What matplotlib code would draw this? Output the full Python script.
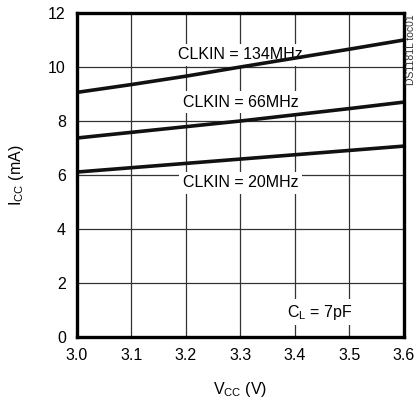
import matplotlib
matplotlib.use("Agg")
import matplotlib.pyplot as plt

plt.rcParams['font.family'] = ['Liberation Sans Narrow', 'Liberation Sans', 'DejaVu Sans']

vcc = [3.0, 3.1, 3.2, 3.3, 3.4, 3.5, 3.6]
icc_134 = [9.06, 9.35, 9.66, 10.0, 10.33, 10.66, 11.0]
icc_66 = [7.37, 7.58, 7.79, 8.0, 8.23, 8.46, 8.70]
icc_20 = [6.11, 6.27, 6.43, 6.59, 6.75, 6.91, 7.07]

x_ticks = [3.0, 3.1, 3.2, 3.3, 3.4, 3.5, 3.6]
x_labels = ["3.0", "3.1", "3.2", "3.3", "3.4", "3.5", "3.6"]
y_ticks = [0, 2, 4, 6, 8, 10, 12]

fig = plt.figure(figsize=(4.16, 4.01), dpi=100)
ax = fig.add_axes([0.185, 0.1596, 0.786, 0.808])

for y in icc_134, icc_66, icc_20:
    ax.plot(vcc, y, color="#111111", linewidth=2.6, zorder=3)

ax.set_xlim(3.0, 3.6)
ax.set_ylim(0, 12)
ax.set_xticks(x_ticks)
ax.set_xticklabels(x_labels)
ax.set_yticks(y_ticks)
ax.tick_params(length=0, labelsize=11.5, pad=8)
ax.grid(True, color="#333333", linewidth=0.9)
for s in ax.spines.values():
    s.set_linewidth(2.4)
    s.set_zorder(4)

box = dict(facecolor="white", edgecolor="none", pad=2.5)
ax.text(3.3, 10.45, "CLKIN = 134MHz", ha="center", va="center", fontsize=11.5, bbox=box, zorder=2)
ax.text(3.3, 8.7, "CLKIN = 66MHz", ha="center", va="center", fontsize=11.5, bbox=box, zorder=2)
ax.text(3.3, 5.72, "CLKIN = 20MHz", ha="center", va="center", fontsize=11.5, bbox=box, zorder=2)
ax.text(3.445, 0.92, "C$_\\mathregular{L}$ = 7pF", ha="center", va="center", fontsize=11.5, bbox=box, zorder=2)

ax.set_xlabel("V$_\\mathregular{CC}$ (V)", fontsize=11.5, labelpad=12)
ax.set_ylabel("I$_\\mathregular{CC}$ (mA)", fontsize=11.5, labelpad=16)

fig.text(0.987, 0.965, "DS1181L toc01", rotation=90, ha="center", va="top", fontsize=7.5, color="#333333")

fig.savefig("out.png", dpi=100)
